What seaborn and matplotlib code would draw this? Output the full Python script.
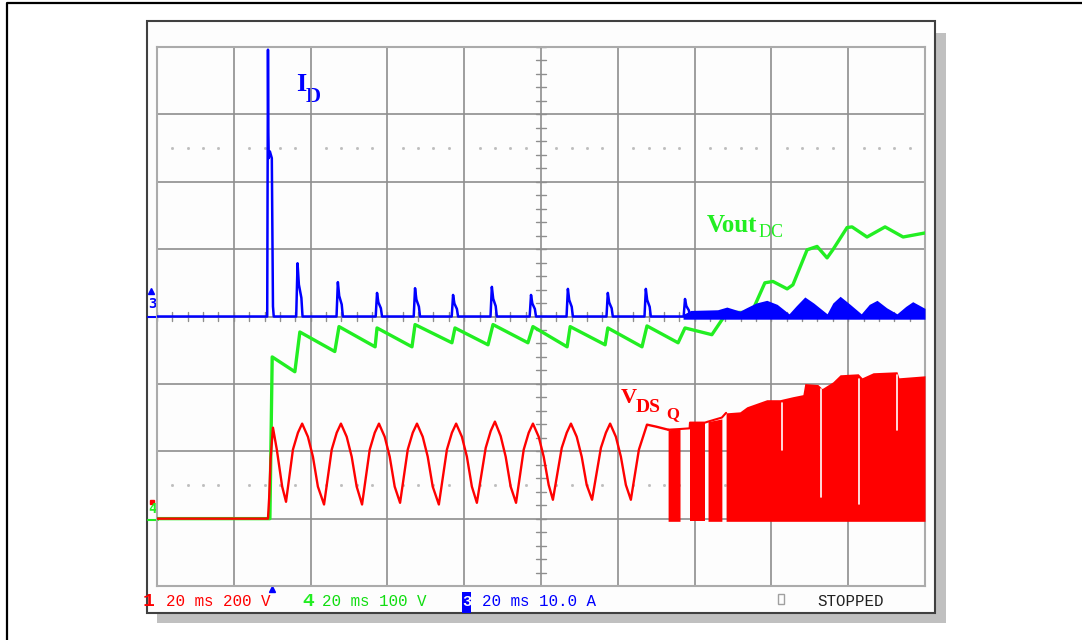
import numpy as np
import pandas as pd
import matplotlib
matplotlib.use("Agg")
import matplotlib.pyplot as plt
import seaborn as sns
from matplotlib.patches import Rectangle

# ---------------- data ----------------
ms_per_div = 20          # time base
n_xdiv, n_ydiv = 10, 8
vds_per_div = 200        # ch1  V/div
vout_per_div = 100       # ch4  V/div
id_per_div = 10.0        # ch3  A/div
vds_gnd = -3             # ground marker positions (divisions)
vout_gnd = -3
id_gnd = 0

# ch1 : V_DS(Q)  (ms, V)
vds_t = [0.0, 28.9, 29.2, 29.6, 30.2, 31.2, 32.6, 33.6,
         35.4, 36.7, 37.8, 39.3, 40.6, 41.9, 43.5,
         45.5, 46.8, 47.9, 49.4, 50.7, 52.0, 53.4,
         55.4, 56.7, 57.8, 59.3, 60.6, 61.9, 63.3,
         65.3, 66.6, 67.7, 69.2, 70.5, 71.8, 73.4,
         75.5, 76.8, 77.9, 79.4, 80.7, 82.0, 83.3,
         85.6, 86.9, 88.0, 89.5, 90.8, 92.1, 93.5,
         95.5, 96.8, 97.9, 99.4, 100.7, 102.0, 103.1,
         105.4, 106.7, 107.8, 109.3, 110.6, 111.9, 113.3,
         115.6, 116.9, 118.0, 119.5, 120.8, 122.1, 123.4,
         125.5, 127.6, 130.0, 133.1]
vds_v = [0, 0, 60, 180, 270, 205, 95, 50,
         205, 255, 282, 243, 184, 95, 42,
         205, 255, 282, 243, 184, 95, 42,
         205, 255, 282, 243, 184, 95, 47,
         205, 255, 282, 243, 184, 95, 42,
         205, 255, 282, 243, 184, 95, 47,
         210, 260, 288, 245, 184, 95, 47,
         205, 255, 282, 243, 184, 100, 56,
         210, 255, 282, 243, 184, 100, 56,
         210, 255, 282, 243, 184, 100, 56,
         205, 279, 273, 264]
# switching bursts : (times, upper envelope) per burst, floor level
vds_bursts = [
    ([133.1, 136.2], [264, 266]),
    ([138.8, 142.7], [285, 285]),
    ([143.5, 147.1], [288, 296]),
    ([148.2, 151.8, 153.6, 158.8, 162.2, 165.6, 168.2, 168.7, 172.1, 173.2,
      176.0, 177.9, 182.6, 183.6, 186.5, 192.7, 193.2, 200.0],
     [314, 317, 332, 353, 353, 362, 368, 401, 398, 386,
      406, 427, 430, 418, 433, 436, 418, 424]),
]
vds_burst_floor = -8
vds_top_t = [133.1, 136.2, 138.7, 138.8, 142.7, 143.5, 147.1, 148.2]
vds_top_v = [264, 266, 268, 285, 285, 288, 300, 314]
# short dropouts inside the burst (ms, from V, to V)
vds_drop_t = [162.8, 172.9, 182.8, 192.7]
vds_drop_hi = [350, 392, 421, 433]
vds_drop_lo = [205, 65, 42, 264]

# ch4 : Vout_DC  (ms, V)
vout_t = [0.0, 29.4, 30.0, 35.9, 37.2, 46.3, 47.4, 56.8, 57.3, 66.4, 67.2,
          76.8, 77.6, 86.2, 87.5, 96.6, 97.9, 106.8, 107.6, 116.7, 117.4,
          126.3, 127.6, 135.7, 137.5, 144.5, 148.4, 152.6, 154.4, 158.3,
          160.4, 164.1, 165.6, 169.3, 171.9, 174.5, 176.0, 179.7, 181.0,
          184.9, 189.6, 194.3, 200.0]
vout_v = [0, 0, 240, 218, 277, 248, 285, 255, 283, 255, 288,
          261, 283, 258, 288, 261, 285, 255, 285, 258, 283,
          255, 286, 261, 283, 273, 306, 306, 300, 350,
          352, 341, 347, 399, 404, 387, 399, 432, 433,
          418, 433, 418, 424]

# ch3 : I_D  (ms, A)
id_big_t = [28.7, 28.9, 29.0, 29.1, 29.4, 29.9, 30.2, 30.4]
id_big_a = [0, 39.6, 27.2, 23.5, 24.5, 23.5, 1.5, 0]
id_spike_t = [36.6, 47.1, 57.3, 67.2, 77.1, 87.2, 97.4, 107.0, 117.4, 127.3, 137.5]
id_spike_a = [7.9, 5.1, 3.5, 4.2, 3.2, 4.4, 3.2, 4.1, 3.5, 4.1, 2.6]
id_band_t = [137.0, 139.0, 146.0, 148.4, 151.8, 153.5, 156.0, 158.8, 161.5,
             164.6, 166.5, 168.7, 171.0, 174.5, 176.0, 177.9, 180.5, 183.4,
             185.5, 187.5, 190.0, 192.7, 195.0, 196.8, 200.0]
id_band_top = [0.3, 0.9, 1.0, 1.4, 0.8, 1.3, 2.0, 2.4, 1.8,
               0.4, 1.6, 2.9, 2.0, 0.4, 2.0, 3.0, 1.8, 0.4,
               1.8, 2.4, 1.3, 0.4, 1.5, 2.2, 1.2]
id_band_floor = -0.4

status_items = ["20 ms 200 V", "20 ms 100 V", "20 ms 10.0 A"]
status_state = "STOPPED"

RED, GREEN, BLUE = "#ff0000", "#22ee22", "#0000ff"

# ---------------- figure ----------------
sns.set_style("white")
plt.rcParams["font.family"] = ["DejaVu Sans"]
W, H = 1082, 640
fig = plt.figure(figsize=(W / 100, H / 100), dpi=100)

deco = fig.add_axes([0, 0, 1, 1], zorder=0)
deco.set_xlim(0, W)
deco.set_ylim(H, 0)
deco.axis("off")
deco.plot([7, 7, W + 5], [H + 5, 2.5, 2.5], color="black", lw=1.6)
deco.add_patch(Rectangle((157, 33), 946 - 157, 623 - 33, facecolor="#c0c0c0", edgecolor="none"))
deco.add_patch(Rectangle((147, 21), 935 - 147, 613 - 21, facecolor="#fdfdfd",
                         edgecolor="#404040", lw=1.5))

gx0, gy0, gx1, gy1 = 157, 47, 925, 586
ax = fig.add_axes([gx0 / W, 1 - gy1 / H, (gx1 - gx0) / W, (gy1 - gy0) / H], zorder=1)
ax.set_facecolor("none")
ax.set_xlim(0, n_xdiv * ms_per_div)
ax.set_ylim(-n_ydiv / 2, n_ydiv / 2)
ax.set_xticks(np.arange(0, n_xdiv * ms_per_div + 1, ms_per_div))
ax.set_yticks(np.arange(-n_ydiv / 2, n_ydiv / 2 + 1, 1))
ax.tick_params(length=0, labelbottom=False, labelleft=False)
ax.grid(True, color="#8e8e8e", lw=1.2)
for s in ax.spines.values():
    s.set_color("#ababab")
    s.set_linewidth(1.5)

# centre axes minor ticks
mx = np.arange(0, n_xdiv * ms_per_div + 0.1, ms_per_div / 5)
my = np.arange(-n_ydiv / 2, n_ydiv / 2 + 0.01, 0.2)
xc = n_xdiv * ms_per_div / 2
for yy in my:
    ax.plot([xc - 1.2, xc + 1.2], [yy, yy], color="#8e8e8e", lw=1)
for xx in mx:
    ax.plot([xx, xx], [-0.06, 0.06], color="#8e8e8e", lw=1)
dots = [x for x in mx if abs(x / ms_per_div - round(x / ms_per_div)) > 1e-6]
for yy in (2.5, -2.5):
    ax.plot(dots, [yy] * len(dots), ls="none", marker="s", ms=1.0, color="#bdbdbd")

def vds_div(v):
    return np.asarray(v, float) / vds_per_div + vds_gnd

def vout_div(v):
    return np.asarray(v, float) / vout_per_div + vout_gnd

def id_div(a):
    return np.asarray(a, float) / id_per_div + id_gnd

# ---- ch4 green ----
df_g = pd.DataFrame({"t": vout_t, "y": vout_div(vout_v)})
sns.lineplot(data=df_g, x="t", y="y", sort=False, estimator=None, color=GREEN, lw=2.4,
             ax=ax, zorder=3)

# ---- ch1 red (drawn over green) ----
df_r = pd.DataFrame({"t": vds_t, "y": vds_div(vds_v)})
sns.lineplot(data=df_r, x="t", y="y", sort=False, estimator=None, color=RED, lw=1.7,
             ax=ax, zorder=4)
for bt_, bv_ in vds_bursts:
    ax.fill_between(bt_, vds_div(bv_), vds_div([vds_burst_floor] * len(bt_)),
                    color=RED, lw=0, zorder=4)
df_top = pd.DataFrame({"t": vds_top_t, "y": vds_div(vds_top_v)})
sns.lineplot(data=df_top, x="t", y="y", sort=False, estimator=None, color=RED, lw=1.5,
             ax=ax, zorder=4)
for t, hi, lo in zip(vds_drop_t, vds_drop_hi, vds_drop_lo):
    ax.plot([t, t], vds_div([hi - 8, lo]), color="white", lw=1.2, zorder=5)

# ---- ch3 blue ----
bt = [0.0] + id_big_t
ba = [0.0] + id_big_a
for tp, ap in zip(id_spike_t, id_spike_a):
    bt += [tp - 0.35, tp, tp + 0.35, tp + 1.0, tp + 1.3]
    ba += [0, ap, 0.6 * ap, 0.35 * ap, 0]
bt += [200.0]
ba += [0.0]
df_b = pd.DataFrame({"t": bt, "y": id_div(ba)})
sns.lineplot(data=df_b, x="t", y="y", sort=False, estimator=None, color=BLUE, lw=1.8,
             ax=ax, zorder=6)
ax.fill_between(id_band_t, id_div(id_band_top), id_div([id_band_floor] * len(id_band_t)),
                color=BLUE, lw=0, zorder=6)
ax.set_xlabel("")
ax.set_ylabel("")

# ---- labels ----
serif = "Liberation Serif"
deco.text(296, 91, "I", color=BLUE, fontsize=19, fontweight="bold", family=serif)
deco.text(306, 102, "D", color=BLUE, fontsize=15, fontweight="bold", family=serif)
deco.text(707, 232, "Vout", color=GREEN, fontsize=18, fontweight="bold", family=serif)
deco.text(759, 237, "DC", color=GREEN, fontsize=13, family=serif)
deco.text(621, 403, "V", color=RED, fontsize=16, fontweight="bold", family=serif)
deco.text(636, 412, "DS", color=RED, fontsize=14, fontweight="bold", family=serif)
deco.text(666, 418, "Q", color=RED, fontsize=12, fontweight="bold", family=serif)

# ---- channel markers ----
deco.text(152.5, 304, "3", color=BLUE, fontsize=10, fontweight="bold", ha="center", va="center",
          family="DejaVu Sans Mono")
deco.plot([151], [291], marker="^", ms=4, color=BLUE)
deco.plot([148, 158], [316.5, 316.5], color=BLUE, lw=1.5)
deco.text(152.5, 509, "4", color=GREEN, fontsize=10, fontweight="bold", ha="center", va="center",
          family="DejaVu Sans Mono")
deco.plot([152], [502], marker="s", ms=3, color=RED)
deco.plot([148, 158], [520, 520], color=GREEN, lw=1.5)
deco.plot([272], [589], marker="^", ms=5, color=BLUE)

# ---- status line ----
mono = "Liberation Mono"
ys = 601
deco.text(149, ys, "1", color=RED, fontsize=14, fontweight="bold", ha="center", va="center",
          family=mono)
deco.text(166, ys, status_items[0], color=RED, fontsize=11.4, family=mono, va="center")
deco.text(308, ys, "4", color=GREEN, fontsize=14, fontweight="bold", ha="center", va="center",
          family=mono)
deco.text(322, ys, status_items[1], color="#11dd11", fontsize=11.4, family=mono, va="center")
deco.add_patch(Rectangle((462, 592), 9, 21, facecolor=BLUE, edgecolor="none"))
deco.text(466.5, 602, "3", color="white", fontsize=11, fontweight="bold", ha="center",
          va="center", family=mono)
deco.text(482, ys, status_items[2], color=BLUE, fontsize=11.4, family=mono, va="center")
deco.add_patch(Rectangle((778, 594), 6, 10, facecolor="none", edgecolor="#a0a0a0", lw=1))
deco.text(817, ys, status_state, color="#202020", fontsize=11.4, family=mono, va="center")

fig.savefig("out.png", dpi=100)
